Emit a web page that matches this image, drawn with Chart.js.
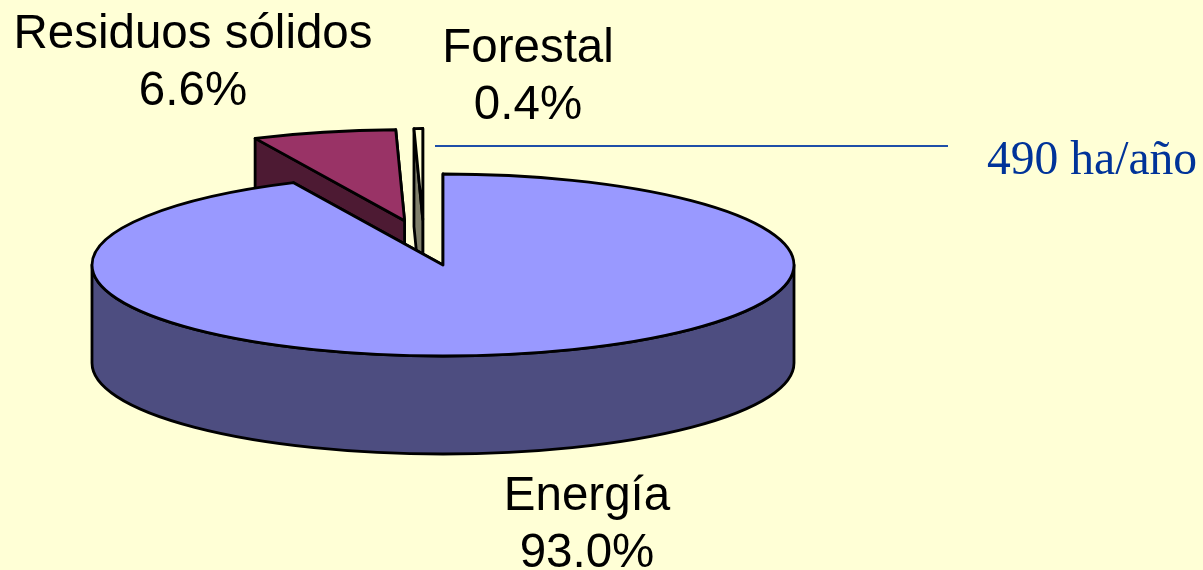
<!DOCTYPE html>
<html lang="es">
<head>
<meta charset="utf-8">
<title>Residuos, forestal, energía</title>
<script src="https://cdn.jsdelivr.net/npm/chart.js@4"></script>
<style>
    html, body { margin: 0; padding: 0; background: #ffffd6; overflow: hidden; }
    canvas { display: block; }
</style>
</head>
<body>
<canvas id="pieChart" width="1203" height="570"></canvas>
<script>
// Datos (se dibuja Energía al final para que tape a las otras porciones)
const categories = ['Residuos sólidos', 'Forestal', 'Energía'];
const shares = [6.6, 0.4, 93.0];
const note = '490 ha/año';

// Colores
const topColors = ['#993366', '#ffffd6', '#9999ff'];
const sideColors = ['#4d1a33', '#80806b', '#4d4d80'];

// Geometría de la elipse en pantalla
const centerX = 443;
const centerY = 265;
const radiusX = 351;
const radiusY = 91;
const depth = 98;
const sliceShift = [2, -18, 0]; // Forestal va corrida a la izquierda

// Posición de las etiquetas: [x, línea 1, línea 2]
const labelPlaces = [[193, 48, 105], [528, 62, 119], [587, 510, 567]];

const pie3d = {
    id: 'pie3d',
    beforeDatasetsDraw(chart) {
        const ctx = chart.ctx;
        const arcs = chart.getDatasetMeta(0).data;

        ctx.save();
        ctx.lineWidth = 2.8;
        ctx.lineJoin = 'round';
        ctx.strokeStyle = '#000';

        arcs.forEach((arc, i) => {
            const r = arc.outerRadius;
            const mid = (arc.startAngle + arc.endAngle) / 2;
            const move = arc.options.offset / 4;
            const cx = centerX + sliceShift[i] + Math.cos(mid) * move * radiusX / r;
            const cy = centerY + Math.sin(mid) * move * radiusY / r;

            // Caras de los cortes (primero la derecha, la izquierda la tapa)
            ctx.fillStyle = sideColors[i];
            [arc.endAngle, arc.startAngle].forEach(a => {
                const px = cx + Math.cos(a) * radiusX;
                const py = cy + Math.sin(a) * radiusY;
                ctx.beginPath();
                ctx.moveTo(cx, cy);
                ctx.lineTo(px, py);
                ctx.lineTo(px, py + depth);
                ctx.lineTo(cx, cy + depth);
                ctx.closePath();
                ctx.fill();
                ctx.stroke();
            });

            // Pared exterior: solo la mitad delantera se ve
            [0, 2 * Math.PI].forEach(turn => {
                const lo = Math.max(arc.startAngle, turn);
                const hi = Math.min(arc.endAngle, turn + Math.PI);
                if (lo >= hi) return;
                ctx.beginPath();
                ctx.ellipse(cx, cy, radiusX, radiusY, 0, lo, hi);
                ctx.ellipse(cx, cy + depth, radiusX, radiusY, 0, hi, lo, true);
                ctx.closePath();
                ctx.fill();
                ctx.stroke();
            });

            // Tapa: ángulos y separación salen del arco de Chart.js
            ctx.fillStyle = arc.options.backgroundColor;
            ctx.beginPath();
            ctx.moveTo(cx, cy);
            ctx.ellipse(cx, cy, radiusX, radiusY, 0, arc.startAngle, arc.endAngle);
            ctx.closePath();
            ctx.fill();
            ctx.stroke();
        });

        // Etiquetas
        ctx.fillStyle = '#000';
        ctx.textAlign = 'center';
        ctx.font = '47.5px "Liberation Sans", Arial, sans-serif';
        categories.forEach((name, i) => {
            const [x, y1, y2] = labelPlaces[i];
            ctx.fillText(name, x, y1);
            ctx.fillText(shares[i].toFixed(1) + '%', x, y2);
        });

        // Línea y nota de Forestal
        ctx.strokeStyle = '#1f4fa8';
        ctx.lineWidth = 1.8;
        ctx.beginPath();
        ctx.moveTo(435, 146);
        ctx.lineTo(948, 146);
        ctx.stroke();
        ctx.fillStyle = '#003399';
        ctx.textAlign = 'left';
        ctx.font = '47.6px "Liberation Serif", "Times New Roman", serif';
        ctx.fillText(note, 987, 174);

        ctx.restore();
        return false;
    }
};

new Chart(document.getElementById('pieChart').getContext('2d'), {
    type: 'pie',
    data: {
        labels: categories,
        datasets: [{
            data: shares,
            backgroundColor: topColors,
            borderWidth: 0,
            offset: [285, 285, 0]
        }]
    },
    options: {
        responsive: false,
        animation: false,
        rotation: 334.8,
        plugins: {
            legend: { display: false },
            tooltip: { enabled: false }
        }
    },
    plugins: [pie3d]
});
</script>
</body>
</html>
